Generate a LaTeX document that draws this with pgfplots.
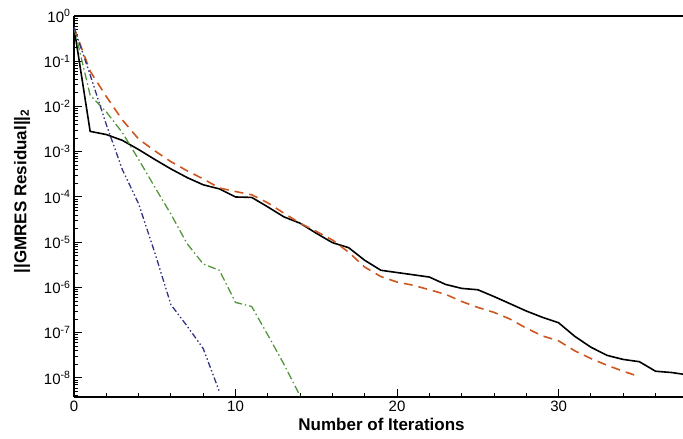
\documentclass[border=0pt]{standalone}
\usepackage{fontspec}
\setmainfont{Liberation Sans}
\usepackage{pgfplots}
\pgfplotsset{compat=1.18}
\definecolor{cOr}{RGB}{206,86,32}
\definecolor{cGr}{RGB}{84,150,62}
\definecolor{cBl}{RGB}{52,52,128}
\begin{document}
\begin{tikzpicture}
\begin{axis}[
  scale only axis, width=609pt, height=381pt,
  xmin=0, xmax=37.7, ymode=log, ymin=3.8e-9, ymax=1,
  axis x line=box, axis y line=left,
  axis line style={-, line width=1.4pt},
  xtick={0,10,20,30}, xticklabels={0,10,20,30},
  minor xtick={2,4,6,8,12,14,16,18,22,24,26,28,32,34,36},
  xtick pos=left, ytick pos=left, tick align=inside,
  major tick length=8pt, minor tick length=4pt,
  every tick/.style={black, line width=1pt},
  ytick={1e-8,1e-7,1e-6,1e-5,1e-4,1e-3,1e-2,1e-1,1},
  yticklabels={10\textsuperscript{-8},10\textsuperscript{-7},10\textsuperscript{-6},10\textsuperscript{-5},10\textsuperscript{-4},10\textsuperscript{-3},10\textsuperscript{-2},10\textsuperscript{-1},10\textsuperscript{0}},
  minor ytick={4e-9,5e-9,6e-9,7e-9,8e-9,9e-9,
    2e-8,3e-8,4e-8,5e-8,6e-8,7e-8,8e-8,9e-8,
    2e-7,3e-7,4e-7,5e-7,6e-7,7e-7,8e-7,9e-7,
    2e-6,3e-6,4e-6,5e-6,6e-6,7e-6,8e-6,9e-6,
    2e-5,3e-5,4e-5,5e-5,6e-5,7e-5,8e-5,9e-5,
    2e-4,3e-4,4e-4,5e-4,6e-4,7e-4,8e-4,9e-4,
    2e-3,3e-3,4e-3,5e-3,6e-3,7e-3,8e-3,9e-3,
    2e-2,3e-2,4e-2,5e-2,6e-2,7e-2,8e-2,9e-2,
    2e-1,3e-1,4e-1,5e-1,6e-1,7e-1,8e-1,9e-1},
  ticklabel style={font=\fontsize{15}{15}\selectfont},
  xlabel={Number of Iterations},
  ylabel={||GMRES Residual||\textsubscript{2}},
  label style={font=\fontsize{17}{17}\selectfont\bfseries},
  xlabel style={at={(axis description cs:0.505,-0.0892)}, anchor=base},
  ylabel style={at={(axis description cs:-0.0854,0.54)}, anchor=center},
  clip=true,
]
\coordinate (ll) at (rel axis cs:0,0);
% black solid
\addplot[black, line width=1.6pt] coordinates {
(0,0.562) (1,2.82e-3) (2,2.40e-3) (3,1.78e-3) (4,1.12e-3) (5,6.76e-4)
(6,4.17e-4) (7,2.69e-4) (8,1.86e-4) (9,1.51e-4) (10,1.0e-4) (11,9.8e-5)
(12,6.03e-5) (13,3.63e-5) (14,2.63e-5) (15,1.58e-5) (16,9.8e-6) (17,7.59e-6)
(18,3.98e-6) (19,2.40e-6) (20,2.14e-6) (21,1.91e-6) (22,1.70e-6) (23,1.17e-6)
(24,9.55e-7) (25,8.91e-7) (26,6.31e-7) (27,4.37e-7) (28,3.02e-7) (29,2.19e-7)
(30,1.66e-7) (31,8.32e-8) (32,4.79e-8) (33,3.16e-8) (34,2.57e-8) (35,2.29e-8)
(36,1.41e-8) (37,1.32e-8) (38,1.17e-8)
};
% orange dashed
\addplot[cOr, line width=1.6pt, dash pattern=on 9pt off 6pt] coordinates {
(0,0.55) (1,6.03e-2) (2,1.66e-2) (3,5.01e-3) (4,1.91e-3) (5,1.05e-3)
(6,6.03e-4) (7,3.80e-4) (8,2.51e-4) (9,1.58e-4) (10,1.32e-4) (11,1.12e-4)
(12,7.41e-5) (13,4.37e-5) (14,2.63e-5) (15,1.74e-5) (16,1.12e-5) (17,6.03e-6)
(18,2.82e-6) (19,1.74e-6) (20,1.32e-6) (21,1.12e-6) (22,8.91e-7) (23,7.08e-7)
(24,4.90e-7) (25,3.63e-7) (26,2.82e-7) (27,2.0e-7) (28,1.26e-7) (29,8.51e-8)
(30,6.61e-8) (31,3.98e-8) (32,2.69e-8) (33,1.91e-8) (34,1.41e-8) (35,1.07e-8)
};
% green dash-dot
\addplot[cGr, line width=1.3pt, dash pattern=on 8pt off 3pt on 1.5pt off 3pt] coordinates {
(0,0.562) (1,1.78e-2) (2,7.59e-3) (3,2.63e-3) (4,6.76e-4) (5,1.66e-4)
(6,4.17e-5) (7,9.33e-6) (8,3.31e-6) (9,2.40e-6) (10,4.68e-7) (11,3.80e-7)
(12,8.91e-8) (13,2.0e-8) (14,3.98e-9)
};
% blue dash-dot-dot
\addplot[cBl, line width=1.3pt, dash pattern=on 6pt off 2.5pt on 1.5pt off 2.5pt on 1.5pt off 2.5pt] coordinates {
(0,0.562) (1,5.01e-2) (2,3.98e-3) (3,3.98e-4) (4,7.08e-5) (5,5.89e-6)
(6,4.17e-7) (7,1.41e-7) (8,4.47e-8) (9,5.01e-9)
};
\end{axis}
\pgfresetboundingbox
\path (ll) ++(-74pt,-42pt) rectangle ++(683pt,439pt);
\end{tikzpicture}
\end{document}
